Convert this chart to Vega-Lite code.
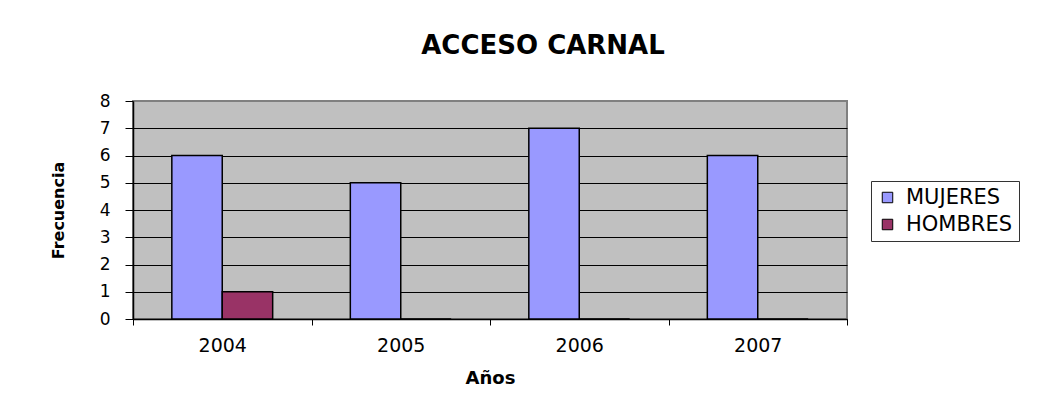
{
  "$schema": "https://vega.github.io/schema/vega-lite/v6.json",
  "width": 714,
  "height": 218,
  "autosize": {"type": "none"},
  "padding": {"left": 133, "top": 101, "right": 216, "bottom": 89},
  "background": "white",
  "title": {
    "text": "ACCESO CARNAL",
    "font": "DejaVu Sans",
    "fontSize": 26,
    "fontWeight": "bold",
    "color": "black",
    "dx": 53,
    "offset": 33
  },
  "data": {
    "values": [
      {"anio": "2004", "sexo": "MUJERES", "frecuencia": 6},
      {"anio": "2004", "sexo": "HOMBRES", "frecuencia": 1},
      {"anio": "2005", "sexo": "MUJERES", "frecuencia": 5},
      {"anio": "2005", "sexo": "HOMBRES", "frecuencia": 0},
      {"anio": "2006", "sexo": "MUJERES", "frecuencia": 7},
      {"anio": "2006", "sexo": "HOMBRES", "frecuencia": 0},
      {"anio": "2007", "sexo": "MUJERES", "frecuencia": 6},
      {"anio": "2007", "sexo": "HOMBRES", "frecuencia": 0}
    ]
  },
  "mark": {"type": "bar", "stroke": "black", "strokeWidth": 1.5},
  "encoding": {
    "x": {
      "field": "anio",
      "type": "nominal",
      "scale": {"paddingInner": 0, "paddingOuter": 0},
      "axis": {
        "title": "Años",
        "labelAngle": 0,
        "tickBand": "extent",
        "tickSize": 6,
        "tickColor": "black",
        "domainColor": "black",
        "domainWidth": 1.5,
        "labelFont": "DejaVu Sans",
        "labelFontSize": 19,
        "labelColor": "black",
        "labelPadding": 11,
        "titleFont": "DejaVu Sans",
        "titleFontSize": 18,
        "titleFontWeight": "bold",
        "titleColor": "black",
        "titlePadding": 14,
        "grid": false
      }
    },
    "xOffset": {
      "field": "sexo",
      "type": "nominal",
      "scale": {"domain": ["MUJERES", "HOMBRES"], "paddingInner": 0, "paddingOuter": 0.77}
    },
    "y": {
      "field": "frecuencia",
      "type": "quantitative",
      "scale": {"domain": [0, 8], "nice": false},
      "axis": {
        "title": "Frecuencia",
        "values": [0, 1, 2, 3, 4, 5, 6, 7, 8],
        "tickSize": 8,
        "tickColor": "black",
        "domainColor": "black",
        "domainWidth": 1.5,
        "labelFont": "DejaVu Sans",
        "labelFontSize": 17,
        "labelColor": "black",
        "labelPadding": 15,
        "titleFont": "DejaVu Sans",
        "titleFontSize": 16,
        "titleFontWeight": "bold",
        "titleColor": "black",
        "titlePadding": 33,
        "grid": true,
        "gridColor": {"condition": {"test": "datum.value === 8", "value": "#808080"}, "value": "black"},
        "gridWidth": 1,
        "gridOpacity": 1
      }
    },
    "color": {
      "field": "sexo",
      "type": "nominal",
      "scale": {"domain": ["MUJERES", "HOMBRES"], "range": ["#9999FF", "#993366"]},
      "legend": {
        "title": null,
        "orient": "none",
        "legendX": 738,
        "legendY": 80,
        "strokeColor": "#333333",
        "fillColor": "white",
        "padding": 6,
        "symbolType": "square",
        "symbolSize": 110,
        "symbolStrokeColor": "black",
        "symbolStrokeWidth": 1,
        "symbolOpacity": 1,
        "labelFont": "DejaVu Sans",
        "labelFontSize": 21,
        "labelColor": "black",
        "labelOffset": 8,
        "rowPadding": 5
      }
    }
  },
  "config": {
    "view": {"fill": "#C0C0C0", "stroke": "#808080", "strokeWidth": 2}
  }
}
